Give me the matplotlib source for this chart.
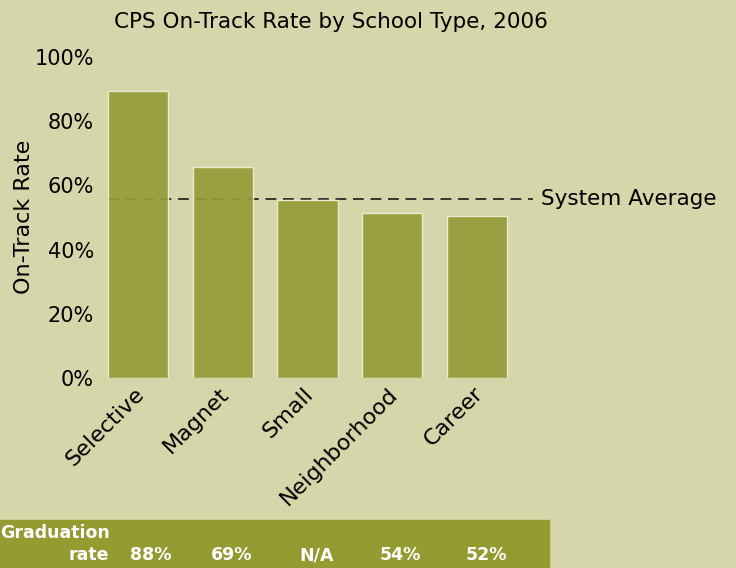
import matplotlib.pyplot as plt
import matplotlib.patches as mpatches

# data
school_types = ['Selective', 'Magnet', 'Small', 'Neighborhood', 'Career']
on_track = [89.5, 65.7, 55.5, 51.4, 50.5]
system_average = 55.8
grad_rates = ['88%', '69%', 'N/A', '54%', '52%']
y_ticks = [0, 20, 40, 60, 80, 100]

bg = '#d5d6a9'
bar_color = '#949c38'
band_color = '#949b31'

W, H = 736, 568
fig = plt.figure(figsize=(W / 100, H / 100), dpi=100, facecolor=bg)

# axes placed in pixel terms: x 98..540, y 57..378
ax = fig.add_axes([98 / W, (H - 378) / H, 442 / W, 321 / H])
ax.set_facecolor('none')
for s in ax.spines.values():
    s.set_visible(False)

x = list(range(len(school_types)))
ax.axhline(system_average, xmin=(108 - 98) / 442, xmax=(533 - 98) / 442,
           color='#1a1a1a', lw=1.2, ls=(0, (6.5, 4)), zorder=1)
ax.bar(x, on_track, width=0.708, color=bar_color, edgecolor='#eef0d8',
       linewidth=1.0, alpha=0.92, zorder=2)

ax.set_xlim(-40 / 84.75, 402 / 84.75)
ax.set_ylim(0, 100)
ax.set_yticks(y_ticks)
ax.set_yticklabels([f'{v}%' for v in y_ticks], fontsize=15)
ax.tick_params(axis='y', length=0, pad=3)
ax.tick_params(axis='x', length=0, pad=4)
ax.set_xticks([i - 0.05 for i in x])
ax.set_xticklabels(school_types, rotation=45, ha='right',
                   rotation_mode='anchor', fontsize=16)
ax.set_ylabel('On-Track Rate', fontsize=16)
ax.yaxis.set_label_coords(-0.145, (378 - 217) / 321)

ax.text(4.66 + 0.1, system_average, 'System Average', fontsize=15.5,
        va='center', ha='left', clip_on=False)

fig.text(331 / W, 1 - 22 / H, 'CPS On-Track Rate by School Type, 2006',
         fontsize=15.5, ha='center', va='center')

# graduation rate band along the bottom
fig.patches.append(mpatches.Rectangle((0, 0), 549 / W, 48 / H,
                                      transform=fig.transFigure,
                                      color=band_color, zorder=0))
fig.text(0, 1 - 533 / H, 'Graduation', color='white', fontsize=12.5,
         fontweight='bold', ha='left', va='center')
fig.text(109 / W, 1 - 555 / H, 'rate', color='white', fontsize=12.5,
         fontweight='bold', ha='right', va='center')
grad_x = [151, 232, 317, 400, 486]
for gx, g in zip(grad_x, grad_rates):
    fig.text(gx / W, 1 - 555 / H, g, color='white', fontsize=12.5,
             fontweight='bold', ha='center', va='center')

fig.savefig('out.png', dpi=100, facecolor=bg)
